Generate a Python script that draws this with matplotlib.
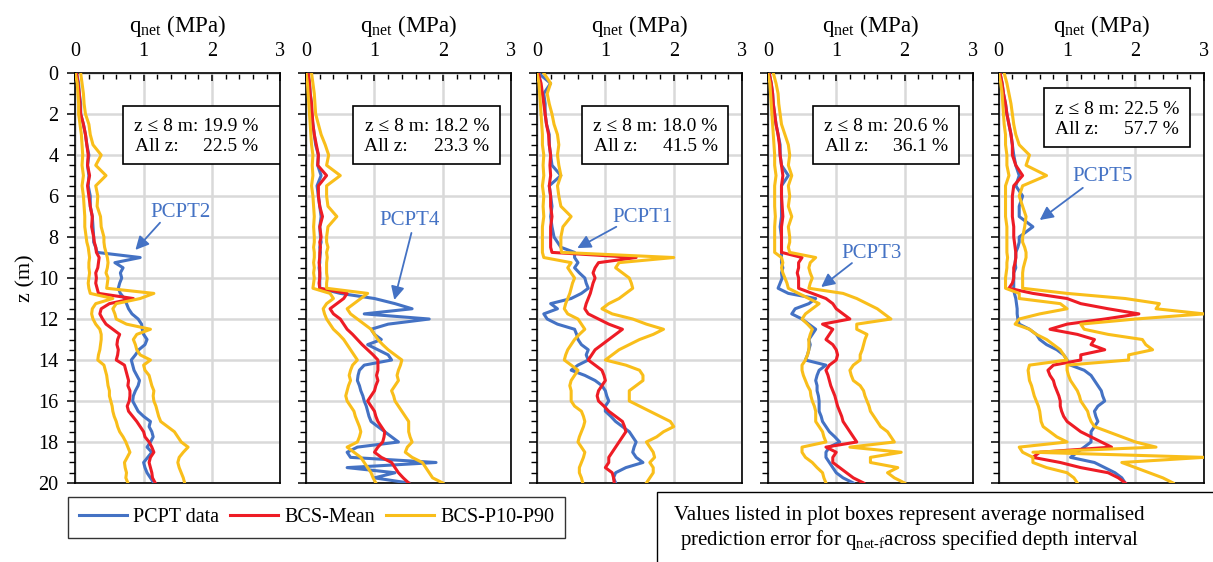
import matplotlib
matplotlib.use("Agg")
import matplotlib.pyplot as plt
from matplotlib.patches import Rectangle
from matplotlib.lines import Line2D
from matplotlib.ticker import MultipleLocator

plt.rcParams['font.family'] = ['Liberation Serif', 'DejaVu Serif']
plt.rcParams['mathtext.fontset'] = 'custom'
plt.rcParams['mathtext.rm'] = 'Liberation Serif'
plt.rcParams['mathtext.it'] = 'Liberation Serif:italic'

# depth grid (m)
Z_TOP = [0, 0.5, 1, 1.5, 2, 2.5, 3, 3.5, 4, 4.5, 5, 5.5, 6, 6.5, 7, 7.5, 8]
Z_BOT = [8.25, 8.5, 8.75, 9, 9.25, 9.5, 9.75, 10, 10.25, 10.5, 10.75, 11,
         11.25, 11.5, 11.75, 12, 12.25, 12.5, 12.75, 13, 13.25, 13.5, 13.75, 14,
         14.25, 14.5, 14.75, 15, 15.25, 15.5, 15.75, 16, 16.25, 16.5, 16.75, 17,
         17.25, 17.5, 17.75, 18, 18.25, 18.5, 18.75, 19, 19.25, 19.5, 19.75, 20]
Z = Z_TOP + Z_BOT

# PCPT2
PCPT2_DATA = [0.02, 0.05, 0.06, 0.08, 0.08, 0.12, 0.15, 0.17, 0.2, 0.18, 0.2, 0.19, 0.22, 0.22, 0.25, 0.26, 0.27,
              0.27, 0.3, 0.32, 0.95, 0.58, 0.7, 0.66, 0.68, 0.65, 0.63, 0.66, 0.72,
              0.75, 0.78, 0.83, 0.92, 0.97, 0.98, 1.0, 1.05, 1.02, 0.93, 0.88, 0.82,
              0.84, 0.86, 0.9, 0.94, 0.92, 0.88, 0.85, 0.84, 0.88, 0.92, 1.0, 1.1,
              1.08, 1.12, 1.14, 1.1, 1.05, 1.12, 1.06, 1.0, 1.02, 1.05, 1.1, 1.15]
PCPT2_MEAN = [0.02, 0.04, 0.06, 0.07, 0.08, 0.12, 0.15, 0.17, 0.19, 0.18, 0.21, 0.18, 0.2, 0.22, 0.25, 0.24, 0.27,
              0.28, 0.3, 0.31, 0.35, 0.34, 0.33, 0.3, 0.31, 0.3, 0.32, 0.34, 0.85,
              0.5, 0.38, 0.36, 0.4, 0.45, 0.55, 0.65, 0.62, 0.61, 0.63, 0.62, 0.6,
              0.72, 0.74, 0.76, 0.78, 0.77, 0.8, 0.8, 0.79, 0.76, 0.78, 0.84, 0.9,
              0.95, 1.0, 1.02, 1.08, 1.12, 1.15, 1.1, 1.08, 1.1, 1.12, 1.13, 1.17]
PCPT2_P10 = [0.0, 0.03, 0.04, 0.05, 0.05, 0.07, 0.09, 0.1, 0.11, 0.1, 0.12, 0.1, 0.12, 0.13, 0.14, 0.14, 0.16,
             0.17, 0.19, 0.2, 0.21, 0.2, 0.2, 0.21, 0.2, 0.19, 0.2, 0.22, 0.55,
             0.3, 0.25, 0.24, 0.26, 0.3, 0.36, 0.38, 0.38, 0.37, 0.36, 0.34, 0.33,
             0.42, 0.44, 0.46, 0.47, 0.48, 0.5, 0.5, 0.52, 0.54, 0.55, 0.57, 0.6,
             0.62, 0.65, 0.7, 0.74, 0.77, 0.8, 0.76, 0.72, 0.73, 0.75, 0.74, 0.77]
PCPT2_P90 = [0.08, 0.1, 0.12, 0.13, 0.15, 0.2, 0.22, 0.26, 0.38, 0.3, 0.45, 0.3, 0.33, 0.32, 0.37, 0.38, 0.42,
             0.42, 0.43, 0.45, 0.47, 0.48, 0.47, 0.45, 0.48, 0.47, 0.46, 1.15, 0.95,
             0.6, 0.55, 0.58, 0.6, 0.75, 1.1, 0.9, 0.85, 0.88, 0.9, 0.95, 1.1,
             1.0, 1.02, 1.08, 1.1, 1.12, 1.15, 1.14, 1.15, 1.18, 1.2, 1.22, 1.25,
             1.35, 1.45, 1.5, 1.55, 1.65, 1.58, 1.52, 1.5, 1.52, 1.55, 1.58, 1.6]

# PCPT4
PCPT4_DATA = [0.03, 0.05, 0.06, 0.08, 0.08, 0.1, 0.12, 0.14, 0.18, 0.17, 0.22, 0.16, 0.18, 0.2, 0.22, 0.2, 0.21,
              0.22, 0.2, 0.21, 0.2, 0.2, 0.19, 0.2, 0.2, 0.2, 0.2, 0.5, 1.0,
              1.3, 1.55, 0.85, 1.8, 1.2, 0.95, 1.0, 1.1, 0.9, 1.05, 1.2, 1.25,
              0.85, 0.78, 0.76, 0.75, 0.78, 0.8, 0.83, 0.85, 0.88, 0.9, 0.92, 0.95,
              1.05, 1.15, 1.25, 1.35, 0.75, 0.6, 0.65, 1.9, 0.6, 1.3, 1.0, 1.5]
PCPT4_MEAN = [0.03, 0.05, 0.06, 0.08, 0.09, 0.1, 0.12, 0.15, 0.18, 0.17, 0.3, 0.18, 0.18, 0.2, 0.24, 0.2, 0.22,
              0.2, 0.21, 0.2, 0.2, 0.19, 0.2, 0.2, 0.2, 0.19, 0.2, 0.6, 0.55,
              0.45, 0.35, 0.4, 0.5, 0.55, 0.6, 0.68, 0.75, 0.82, 0.9, 0.98, 1.05,
              1.05, 1.05, 1.03, 1.05, 1.02, 1.0, 0.95, 0.9, 0.95, 1.0, 1.02, 1.05,
              1.1, 1.15, 1.14, 1.12, 1.05, 1.0, 1.1, 1.25, 1.3, 1.35, 1.42, 1.5]
PCPT4_P10 = [0.0, 0.02, 0.03, 0.04, 0.05, 0.06, 0.07, 0.08, 0.1, 0.09, 0.1, 0.08, 0.1, 0.11, 0.12, 0.11, 0.12,
             0.12, 0.11, 0.12, 0.12, 0.11, 0.12, 0.11, 0.12, 0.11, 0.1, 0.35, 0.4,
             0.3, 0.25, 0.27, 0.3, 0.35, 0.4, 0.48, 0.55, 0.6, 0.65, 0.7, 0.75,
             0.68, 0.65, 0.63, 0.65, 0.62, 0.6, 0.58, 0.6, 0.65, 0.7, 0.72, 0.75,
             0.78, 0.8, 0.78, 0.75, 0.6, 0.7, 0.8, 0.85, 0.9, 0.95, 0.98, 1.02]
PCPT4_P90 = [0.08, 0.1, 0.12, 0.13, 0.14, 0.18, 0.22, 0.28, 0.33, 0.3, 0.5, 0.3, 0.3, 0.32, 0.45, 0.32, 0.3,
             0.3, 0.32, 0.3, 0.31, 0.3, 0.3, 0.3, 0.31, 0.3, 0.3, 0.9, 0.8,
             0.7, 0.6, 0.65, 0.75, 0.85, 0.95, 1.0, 1.05, 1.12, 1.2, 1.3, 1.4,
             1.38, 1.35, 1.33, 1.35, 1.3, 1.25, 1.28, 1.3, 1.35, 1.4, 1.45, 1.5,
             1.5, 1.5, 1.52, 1.55, 1.48, 1.45, 1.55, 1.7, 1.75, 1.8, 1.85, 2.0]

# PCPT1
PCPT1_DATA = [0.02, 0.2, 0.1, 0.12, 0.12, 0.14, 0.18, 0.18, 0.2, 0.22, 0.35, 0.18, 0.2, 0.22, 0.2, 0.22, 0.25,
              0.3, 0.35, 0.55, 0.55, 0.6, 0.55, 0.62, 0.7, 0.72, 0.75, 0.65, 0.5,
              0.2, 0.3, 0.1, 0.15, 0.3, 0.55, 0.58, 0.6, 0.65, 0.75, 0.72, 0.75,
              0.6, 0.5, 0.7, 0.85, 0.95, 1.0, 1.02, 1.05, 1.0, 1.0, 1.08, 1.15,
              1.25, 1.35, 1.4, 1.45, 1.42, 1.4, 1.45, 1.55, 1.3, 1.15, 1.12, 1.15]
PCPT1_MEAN = [0.02, 0.06, 0.08, 0.1, 0.12, 0.14, 0.17, 0.18, 0.2, 0.19, 0.2, 0.18, 0.2, 0.2, 0.22, 0.2, 0.2,
              0.2, 0.2, 0.22, 1.45, 0.9, 0.85, 0.82, 0.85, 0.82, 0.8, 0.78, 0.75,
              0.72, 0.7, 0.75, 0.9, 1.05, 1.25, 1.15, 1.05, 0.95, 0.85, 0.8, 0.75,
              0.85, 0.95, 0.98, 1.0, 0.95, 0.9, 0.88, 0.9, 0.98, 1.05, 1.15, 1.25,
              1.28, 1.3, 1.25, 1.2, 1.15, 1.1, 1.05, 1.05, 1.0, 1.1, 1.12, 1.13]
PCPT1_P10 = [0.0, 0.03, 0.04, 0.05, 0.06, 0.07, 0.08, 0.08, 0.1, 0.09, 0.1, 0.08, 0.1, 0.09, 0.1, 0.08, 0.08,
             0.08, 0.08, 0.08, 0.1, 0.5, 0.45, 0.5, 0.55, 0.52, 0.5, 0.48, 0.45,
             0.42, 0.4, 0.45, 0.6, 0.65, 0.7, 0.62, 0.55, 0.5, 0.45, 0.42, 0.4,
             0.5, 0.6, 0.55, 0.5, 0.48, 0.5, 0.5, 0.5, 0.55, 0.65, 0.68, 0.7,
             0.68, 0.65, 0.62, 0.6, 0.65, 0.7, 0.68, 0.65, 0.62, 0.62, 0.65, 0.67]
PCPT1_P90 = [0.1, 0.2, 0.15, 0.18, 0.22, 0.25, 0.3, 0.32, 0.3, 0.32, 0.35, 0.3, 0.32, 0.35, 0.5, 0.38, 0.35,
             0.35, 0.35, 0.36, 2.0, 1.2, 1.15, 1.25, 1.35, 1.38, 1.4, 1.3, 1.2,
             1.05, 0.95, 1.1, 1.4, 1.6, 1.85, 1.7, 1.5, 1.35, 1.2, 1.1, 1.0,
             1.3, 1.5, 1.55, 1.55, 1.45, 1.35, 1.35, 1.35, 1.5, 1.65, 1.8, 1.95,
             2.0, 1.85, 1.75, 1.6, 1.65, 1.7, 1.72, 1.65, 1.7, 1.7, 1.65, 1.6]

# PCPT3
PCPT3_DATA = [0.02, 0.05, 0.07, 0.08, 0.1, 0.12, 0.15, 0.18, 0.18, 0.2, 0.3, 0.2, 0.2, 0.2, 0.2, 0.18, 0.2,
              0.2, 0.2, 0.2, 0.2, 0.2, 0.22, 0.2, 0.21, 0.18, 0.15, 0.3, 0.7,
              0.6, 0.4, 0.35, 0.5, 0.6, 0.7, 0.65, 0.6, 0.62, 0.6, 0.58, 0.55,
              0.85, 0.75, 0.72, 0.7, 0.72, 0.72, 0.74, 0.75, 0.75, 0.75, 0.78, 0.8,
              0.85, 0.9, 0.98, 1.05, 0.9, 0.85, 0.85, 0.9, 0.95, 1.0, 1.1, 1.25]
PCPT3_MEAN = [0.02, 0.05, 0.07, 0.08, 0.1, 0.12, 0.15, 0.17, 0.18, 0.2, 0.22, 0.2, 0.2, 0.21, 0.22, 0.2, 0.2,
              0.2, 0.2, 0.2, 0.5, 0.45, 0.45, 0.43, 0.45, 0.45, 0.45, 0.65, 0.85,
              0.95, 1.0, 1.1, 1.2, 0.8, 0.95, 0.9, 0.85, 0.95, 1.0, 1.02, 1.0,
              0.9, 0.85, 0.88, 0.9, 0.92, 0.95, 0.98, 1.0, 1.02, 1.05, 1.08, 1.1,
              1.15, 1.2, 1.25, 1.3, 0.85, 1.0, 0.95, 0.95, 1.05, 1.15, 1.25, 1.4]
PCPT3_P10 = [0.0, 0.03, 0.04, 0.05, 0.06, 0.07, 0.08, 0.09, 0.1, 0.1, 0.12, 0.1, 0.1, 0.1, 0.11, 0.1, 0.1,
             0.1, 0.1, 0.1, 0.2, 0.22, 0.2, 0.22, 0.25, 0.28, 0.3, 0.45, 0.6,
             0.75, 0.65, 0.55, 0.5, 0.58, 0.65, 0.62, 0.6, 0.6, 0.6, 0.58, 0.55,
             0.5, 0.5, 0.52, 0.55, 0.58, 0.62, 0.63, 0.65, 0.68, 0.7, 0.7, 0.7,
             0.75, 0.8, 0.82, 0.85, 0.5, 0.5, 0.55, 0.65, 0.72, 0.8, 0.82, 0.85]
PCPT3_P90 = [0.08, 0.12, 0.15, 0.16, 0.18, 0.2, 0.25, 0.3, 0.32, 0.3, 0.35, 0.3, 0.32, 0.3, 0.35, 0.3, 0.32,
             0.32, 0.3, 0.32, 0.7, 0.62, 0.6, 0.62, 0.65, 0.62, 0.6, 1.1, 1.3,
             1.45, 1.6, 1.7, 1.8, 1.3, 1.3, 1.45, 1.42, 1.4, 1.38, 1.35, 1.35,
             1.25, 1.2, 1.22, 1.25, 1.35, 1.4, 1.42, 1.45, 1.48, 1.5, 1.55, 1.6,
             1.65, 1.75, 1.8, 1.85, 1.2, 1.95, 1.5, 1.5, 1.9, 1.75, 1.85, 2.0]

# PCPT5
PCPT5_DATA = [0.02, 0.05, 0.07, 0.1, 0.12, 0.15, 0.18, 0.2, 0.22, 0.25, 0.3, 0.25, 0.35, 0.3, 0.3, 0.5, 0.3,
              0.3, 0.28, 0.25, 0.25, 0.24, 0.25, 0.22, 0.22, 0.22, 0.22, 0.23, 0.25,
              0.26, 0.27, 0.27, 0.28, 0.3, 0.45, 0.55, 0.6, 0.7, 0.85, 0.95, 1.0,
              1.05, 1.25, 1.35, 1.4, 1.45, 1.5, 1.52, 1.55, 1.45, 1.4, 1.42, 1.45,
              1.4, 1.35, 1.35, 1.35, 1.25, 1.15, 1.05, 1.4, 1.55, 1.7, 1.8, 1.85]
PCPT5_MEAN = [0.02, 0.05, 0.07, 0.1, 0.12, 0.15, 0.18, 0.2, 0.2, 0.25, 0.35, 0.22, 0.2, 0.2, 0.2, 0.22, 0.22,
              0.23, 0.24, 0.25, 0.25, 0.24, 0.22, 0.22, 0.22, 0.2, 0.15, 0.5, 1.0,
              1.2, 1.6, 2.05, 1.55, 1.0, 0.75, 1.15, 1.4, 1.35, 1.55, 1.2, 1.2,
              0.8, 0.72, 0.75, 0.8, 0.82, 0.85, 0.88, 0.9, 0.9, 0.92, 0.95, 1.0,
              1.1, 1.2, 1.35, 1.5, 1.65, 0.6, 0.5, 0.9, 1.2, 1.6, 1.75, 1.85]
PCPT5_P10 = [0.0, 0.03, 0.05, 0.06, 0.07, 0.08, 0.1, 0.1, 0.12, 0.12, 0.15, 0.1, 0.1, 0.1, 0.1, 0.12, 0.12,
             0.12, 0.12, 0.12, 0.13, 0.12, 0.12, 0.11, 0.1, 0.1, 0.1, 0.3, 0.3,
             0.9, 1.0, 0.6, 0.3, 0.24, 0.45, 0.55, 0.7, 0.8, 0.9, 0.95, 1.0,
             0.45, 0.43, 0.44, 0.45, 0.48, 0.5, 0.52, 0.55, 0.58, 0.6, 0.61, 0.62,
             0.65, 0.75, 0.85, 1.0, 0.3, 0.35, 0.5, 0.5, 0.7, 1.0, 1.1, 1.15]
PCPT5_P90 = [0.08, 0.12, 0.15, 0.18, 0.2, 0.22, 0.25, 0.3, 0.45, 0.4, 0.7, 0.35, 0.3, 0.35, 0.4, 0.38, 0.35,
             0.35, 0.38, 0.4, 0.4, 0.38, 0.36, 0.35, 0.35, 0.35, 0.35, 1.0, 1.85,
             2.35, 2.3, 3.0, 2.0, 1.2, 1.25, 1.6, 2.1, 2.15, 2.25, 1.9, 1.9,
             1.0, 1.0, 1.02, 1.05, 1.1, 1.15, 1.18, 1.2, 1.25, 1.3, 1.32, 1.35,
             1.4, 1.6, 1.8, 2.0, 2.3, 0.5, 3.0, 1.8, 2.0, 2.2, 2.4, 2.55]

PANEL_NAMES = ["PCPT2", "PCPT4", "PCPT1", "PCPT3", "PCPT5"]
ERR_SHALLOW = ["19.9 %", "18.2 %", "18.0 %", "20.6 %", "22.5 %"]
ERR_ALL = ["22.5 %", "23.3 %", "41.5 %", "36.1 %", "57.7 %"]

panel_data = [
    (PCPT2_DATA, PCPT2_MEAN, PCPT2_P10, PCPT2_P90),
    (PCPT4_DATA, PCPT4_MEAN, PCPT4_P10, PCPT4_P90),
    (PCPT1_DATA, PCPT1_MEAN, PCPT1_P10, PCPT1_P90),
    (PCPT3_DATA, PCPT3_MEAN, PCPT3_P10, PCPT3_P90),
    (PCPT5_DATA, PCPT5_MEAN, PCPT5_P10, PCPT5_P90),
]

# label / arrow placement (q, z): text centre, arrow start, arrow tip
label_pos = [(1.54, 6.8), (1.51, 7.17), (1.54, 7.07), (1.52, 8.78), (1.52, 5.07)]
arrow_from = [(1.24, 7.3), (1.54, 7.8), (1.16, 7.5), (1.23, 9.27), (1.23, 5.6)]
arrow_to = [(0.88, 8.63), (1.29, 11.07), (0.59, 8.54), (0.78, 10.44), (0.6, 7.17)]
# error box: x0, x1, z0, z1, text left, text right
box_pos = [(0.70, 2.99, 1.6, 4.45, 0.88, 2.68),
           (0.68, 2.84, 1.6, 4.45, 0.85, 2.68),
           (0.66, 2.80, 1.6, 4.45, 0.83, 2.64),
           (0.66, 2.80, 1.6, 4.45, 0.83, 2.64),
           (0.66, 2.79, 0.73, 3.6, 0.82, 2.64)]

BLUE = '#4472C4'
RED = '#EE1C25'
GOLD = '#F9BE1A'
LW = 2.2

fig, axes = plt.subplots(1, 5, figsize=(12.13, 5.62), dpi=100, sharey=True)
fig.subplots_adjust(left=0.062, right=0.9925, bottom=0.1406, top=0.870, wspace=0.125)

for i, ax in enumerate(axes):
    data, mean, p10, p90 = panel_data[i]
    ax.plot(data, Z, color=BLUE, lw=LW, zorder=3)
    ax.plot(mean, Z, color=RED, lw=LW, zorder=4)
    ax.plot(p10, Z, color=GOLD, lw=LW, zorder=5)
    ax.plot(p90, Z, color=GOLD, lw=LW, zorder=5)

    ax.set_xlim(0, 3)
    ax.set_ylim(20, 0)
    ax.xaxis.set_ticks_position('top')
    ax.xaxis.set_label_position('top')
    ax.set_xticks([0, 1, 2, 3])
    ax.xaxis.set_minor_locator(MultipleLocator(0.2))
    ax.set_yticks(range(0, 21, 2))
    ax.yaxis.set_minor_locator(MultipleLocator(0.5))
    ax.tick_params(axis='x', which='major', direction='in', length=6, width=1.1,
                   labelsize=14.5, pad=9)
    ax.tick_params(axis='x', which='minor', direction='in', length=4, width=1.0)
    ax.tick_params(axis='y', which='major', direction='out', length=6, width=1.1,
                   labelsize=14.5, pad=6)
    ax.tick_params(axis='y', which='minor', direction='out', length=4, width=1.0)
    ax.grid(True, which='major', color='#D9D9D9', lw=1.8, zorder=0)
    ax.set_axisbelow(True)
    for sp in ax.spines.values():
        sp.set_linewidth(1.2)
    ax.set_xlabel(r'q$_{\mathrm{net}}$ (MPa)', fontsize=16.5, labelpad=7)

    # error box
    x0, x1, z0, z1, tl, tr = box_pos[i]
    ax.add_patch(Rectangle((x0, z0), x1 - x0, z1 - z0, facecolor='white',
                           edgecolor='black', lw=1.2, zorder=6))
    zc1 = z0 + (z1 - z0) * 0.36
    zc2 = z0 + (z1 - z0) * 0.70
    ax.text(tr, zc1, 'z \u2264 8 m: ' + ERR_SHALLOW[i], ha='right', va='center',
            fontsize=14, zorder=7)
    ax.text(tl, zc2, 'All z:', ha='left', va='center', fontsize=14, zorder=7)
    ax.text(tr, zc2, ERR_ALL[i], ha='right', va='center', fontsize=14, zorder=7)

    # test label with arrow
    ax.text(*label_pos[i], PANEL_NAMES[i], color=BLUE, ha='center', va='center',
            fontsize=15, zorder=7)
    ax.annotate('', xy=arrow_to[i], xytext=arrow_from[i],
                arrowprops=dict(arrowstyle='-|>', color=BLUE, lw=1.3,
                                mutation_scale=20, shrinkA=0, shrinkB=0),
                zorder=7)

axes[0].set_ylabel('z (m)', fontsize=16, labelpad=2)

handles = [Line2D([], [], color=BLUE, lw=LW),
           Line2D([], [], color=RED, lw=LW),
           Line2D([], [], color=GOLD, lw=LW)]
leg = fig.legend(handles, ['PCPT data', 'BCS-Mean', 'BCS-P10-P90'], ncol=3,
                 loc='lower left', bbox_to_anchor=(0.056, 0.0427, 0.41, 0.082),
                 mode='expand', fontsize=14.5, frameon=True, fancybox=False,
                 edgecolor='black', handlelength=2.4, handletextpad=0.3,
                 borderaxespad=0, columnspacing=1.0, borderpad=0.55)
leg.get_frame().set_linewidth(1.0)

fig.patches.append(Rectangle((0.5416, -0.05), 0.47, 0.1746, transform=fig.transFigure,
                             facecolor='white', edgecolor='black', lw=1.0))
fig.text(0.750, 0.083, 'Values listed in plot boxes represent average normalised',
         ha='center', va='center', fontsize=15)
fig.text(0.750, 0.039,
         r'prediction error for q$_{\mathrm{net\text{-}f}}$across specified depth interval',
         ha='center', va='center', fontsize=15)

fig.savefig('out.png', dpi=100)
